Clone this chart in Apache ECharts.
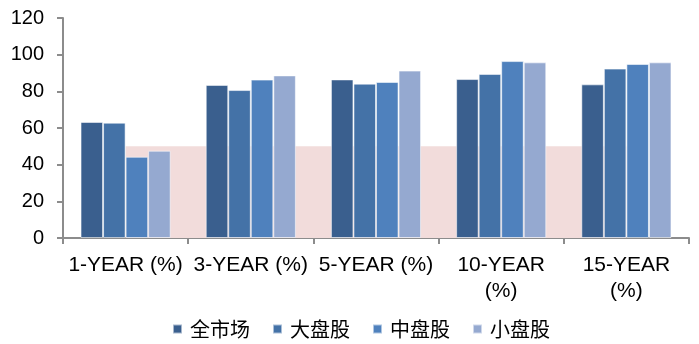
<!DOCTYPE html>
<html>
<head>
<meta charset="utf-8">
<script src="https://cdn.jsdelivr.net/npm/echarts@6/dist/echarts.min.js"></script>
<style>
  html, body { margin: 0; padding: 0; background: #ffffff; }
  #chart { width: 699px; height: 344px; }
</style>
</head>
<body>
<div id="chart"></div>
<script>
// Horizon labels along the x axis
const categories = ['1-YEAR (%)', '3-YEAR (%)', '5-YEAR (%)', '10-YEAR (%)', '15-YEAR (%)'];

// Share (%) per market segment and horizon
const quanShiChang = [63.3, 83.5, 86.5, 86.7, 83.8];
const daPanGu     = [62.9, 80.7, 84.2, 89.5, 92.4];
const zhongPanGu  = [44.3, 86.4, 85.1, 96.5, 94.9];
const xiaoPanGu   = [47.6, 88.7, 91.3, 95.8, 95.8];

// 50% reference band drawn behind the bars
const referenceLevel = [50, 50, 50, 50, 50];

const seriesNames = ['全市场', '大盘股', '中盘股', '小盘股'];
const yTicks = [0, 20, 40, 60, 80, 100, 120];

const colors = ['#3A5F8E', '#4472A7', '#4F81BD', '#95A9D0'];

const chart = echarts.init(document.getElementById('chart'), null, { renderer: 'canvas' });

const barData = [quanShiChang, daPanGu, zhongPanGu, xiaoPanGu];

const barSeries = seriesNames.map((name, i) => ({
  name: name,
  type: 'bar',
  data: barData[i],
  barGap: '0%',
  barCategoryGap: '28%',
  z: 3,
  itemStyle: {
    color: colors[i],
    borderColor: 'rgba(255,255,255,0.55)',
    borderWidth: 1
  }
}));

chart.setOption({
  animation: false,
  backgroundColor: '#ffffff',
  grid: { left: 63, right: 10, top: 18, bottom: 106, containLabel: false },
  legend: {
    data: seriesNames,
    bottom: 0,
    left: 167,
    icon: 'rect',
    itemWidth: 9,
    itemHeight: 9,
    itemGap: 22,
    textStyle: {
      fontFamily: '"Noto Sans CJK SC", sans-serif',
      fontSize: 20,
      color: '#000000',
      padding: [0, 0, 0, 3]
    }
  },
  xAxis: {
    type: 'category',
    data: categories,
    boundaryGap: true,
    axisLine: { show: true, lineStyle: { color: '#8C8C8C', width: 2 } },
    axisTick: { show: true, length: 6, inside: false, alignWithLabel: false, lineStyle: { color: '#8C8C8C', width: 2 } },
    axisLabel: {
      interval: 0,
      margin: 14,
      color: '#000000',
      fontFamily: 'Arial, "Liberation Sans", sans-serif',
      fontSize: 21,
      lineHeight: 26,
      formatter: (v) => (v.length > 10 ? v.replace(' ', '\n') : v)
    },
    splitLine: { show: false }
  },
  yAxis: {
    type: 'value',
    min: yTicks[0],
    max: yTicks[yTicks.length - 1],
    interval: 20,
    axisLine: { show: true, lineStyle: { color: '#8C8C8C', width: 2 } },
    axisTick: { show: true, length: 6, lineStyle: { color: '#8C8C8C', width: 2 } },
    axisLabel: {
      margin: 19,
      color: '#000000',
      fontFamily: 'Arial, "Liberation Sans", sans-serif',
      fontSize: 20
    },
    splitLine: { show: false }
  },
  series: [
    {
      name: 'reference',
      type: 'line',
      data: referenceLevel,
      symbol: 'none',
      silent: true,
      z: 1,
      lineStyle: { width: 0, opacity: 0 },
      areaStyle: { color: '#F2DCDB', opacity: 1 }
    }
  ].concat(barSeries)
});
</script>
</body>
</html>
